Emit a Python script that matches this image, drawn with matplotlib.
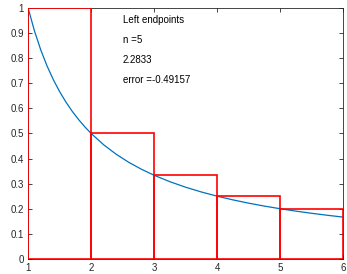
import matplotlib
matplotlib.use('Agg')
import matplotlib.pyplot as plt
from matplotlib.patches import Rectangle

# curve values (f(x) = 1/x)
curve_x = [1.0, 1.1, 1.2, 1.3, 1.4, 1.5, 1.6, 1.7, 1.8, 1.9, 2.0, 2.2, 2.4,
           2.6, 2.8, 3.0, 3.25, 3.5, 3.75, 4.0, 4.25, 4.5, 4.75, 5.0, 5.25,
           5.5, 5.75, 6.0]
curve_y = [1.0, 0.9091, 0.8333, 0.7692, 0.7143, 0.6667, 0.625, 0.5882, 0.5556,
           0.5263, 0.5, 0.4545, 0.4167, 0.3846, 0.3571, 0.3333, 0.3077, 0.2857,
           0.2667, 0.25, 0.2353, 0.2222, 0.2105, 0.2, 0.1905, 0.1818, 0.1739,
           0.1667]

# left endpoint rectangles
rect_left = [1, 2, 3, 4, 5]
rect_width = [1, 1, 1, 1, 1]
rect_height = [1.0, 0.5, 0.3333, 0.25, 0.2]

labels = ['Left endpoints', 'n =5', '2.2833', 'error =-0.49157']
xticks = [1, 2, 3, 4, 5, 6]
yticks = [0, 0.1, 0.2, 0.3, 0.4, 0.5, 0.6, 0.7, 0.8, 0.9, 1]

plt.rcParams['font.family'] = ['Liberation Sans', 'DejaVu Sans']

fig = plt.figure(figsize=(3.47, 2.74), dpi=100)
ax = fig.add_axes([0.081, 0.055, 0.908, 0.916])

ax.plot(curve_x, curve_y, color=(0, 0.447, 0.741), lw=0.9, zorder=2)
for l, w, h in zip(rect_left, rect_width, rect_height):
    ax.add_patch(Rectangle((l, 0), w, h, fill=False, edgecolor='red', lw=1.2, zorder=3))

ty = [0.952, 0.872, 0.792, 0.712]
for t, y in zip(labels, ty):
    ax.text(2.5, y, t, fontsize=7, va='center', ha='left')

ax.set_xlim(1, 6)
ax.set_ylim(0, 1)
ax.set_xticks(xticks)
ax.set_xticklabels([str(t) for t in xticks])
ax.set_yticks(yticks)
ax.set_yticklabels(['0', '0.1', '0.2', '0.3', '0.4', '0.5', '0.6', '0.7', '0.8', '0.9', '1'])
ax.tick_params(direction='in', top=True, right=True, labelsize=7, length=3,
               width=0.6, colors=(0.15, 0.15, 0.15), pad=3)
for s in ax.spines.values():
    s.set_linewidth(0.6)
    s.set_color((0.15, 0.15, 0.15))

fig.savefig('out.png', dpi=100)
